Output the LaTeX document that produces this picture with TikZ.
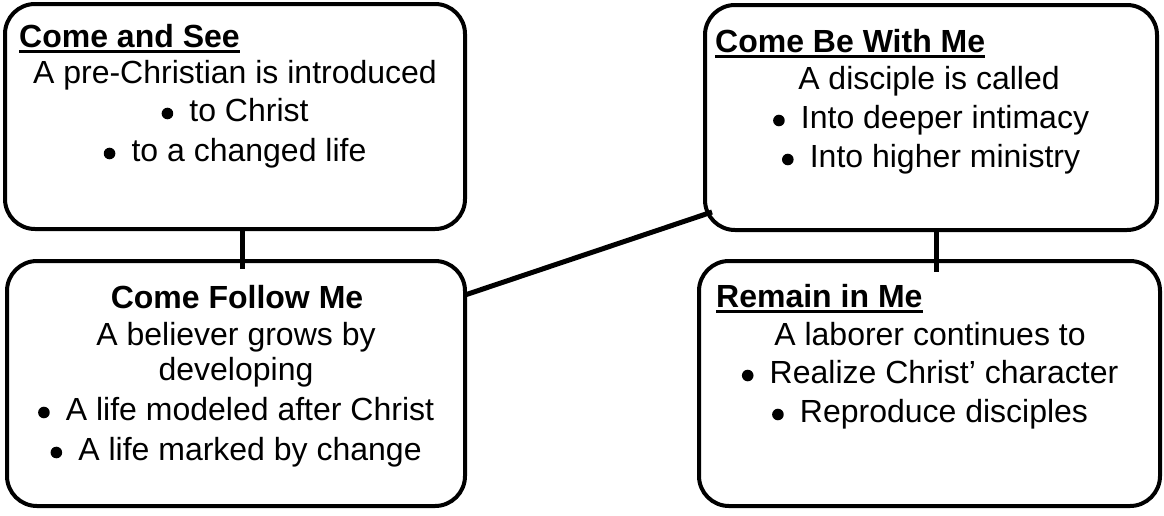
\documentclass[tikz,border=0pt]{standalone}
\usepackage{fontspec}
\setmainfont{Liberation Sans}
\tikzset{
  box/.style={draw, line width=4pt, rounded corners=30pt, inner sep=0pt, outer sep=0pt},
  conn/.style={line width=5pt},
  txt/.style={anchor=base, inner sep=0pt, font=\fontsize{32}{38}\selectfont},
  ttl/.style={txt, font=\fontsize{32}{38}\selectfont\bfseries},
  uline/.style={line width=3.5pt}
}
\newcommand{\bul}{\tikz[baseline=0pt]{\useasboundingbox (0pt,0pt) rectangle (12pt,12pt); \fill (6pt,7.5pt) circle[radius=5.8pt];}\hspace{16pt}}
\begin{document}
\begin{tikzpicture}[x=1pt,y=-1pt]
\useasboundingbox (0,0) rectangle (1164,515);
% boxes
\node[box, minimum width=460pt, minimum height=225pt] (b1) at (235,116.5) {};
\node[box, minimum width=458pt, minimum height=245pt] (b2) at (236,383.5) {};
\node[box, minimum width=452pt, minimum height=225pt] (b3) at (931,117.5) {};
\node[box, minimum width=461pt, minimum height=245pt] (b4) at (929.5,383.5) {};
% connectors
\draw[conn] ([xshift=7pt]b1.south) -- ([xshift=6pt,yshift=-8pt]b2.north);
\draw[conn] ([xshift=5pt]b3.south) -- ([xshift=6.5pt,yshift=-11pt]b4.north);
\draw[conn] ([yshift=-34pt]b2.north east) -- ([xshift=7pt,yshift=18pt]b3.south west);
% box 1
\node[ttl, anchor=base west] (t1) at (19,47) {Come and See};
\draw[uline] ([yshift=-4.5pt]t1.base west) -- ([yshift=-4.5pt]t1.base east);
\node[txt] (a1) at (235,83) {A pre-Christian is introduced};
\node[txt] (a2) at (235,121) {\bul to Christ};
\node[txt] (a3) at (235,161) {\bul to a changed life};
% box 2
\node[ttl] (t2) at (237,308) {Come Follow Me};
\node[txt] (c1) at (236,345) {A believer grows by};
\node[txt] (c2) at (236,380) {developing};
\node[txt] (c3) at (236,420) {\bul A life modeled after Christ};
\node[txt] (c4) at (236,460) {\bul A life marked by change};
% box 3
\node[ttl, anchor=base west] (t3) at (715,52) {Come Be With Me};
\draw[uline] ([yshift=-4.5pt]t3.base west) -- ([yshift=-4.5pt]t3.base east);
\node[txt] (d1) at (929,89) {A disciple is called};
\node[txt] (d2) at (931,128) {\bul Into deeper intimacy};
\node[txt] (d3) at (931,167) {\bul Into higher ministry};
% box 4
\node[ttl, anchor=base west] (t4) at (716,307) {Remain in Me};
\draw[uline] ([yshift=-4.5pt]t4.base west) -- ([yshift=-4.5pt]t4.base east);
\node[txt] (e1) at (930,345) {A laborer continues to};
\node[txt] (e2) at (930,383) {\bul Realize Christ’ character};
\node[txt] (e3) at (930,422) {\bul Reproduce disciples};
\end{tikzpicture}
\end{document}
